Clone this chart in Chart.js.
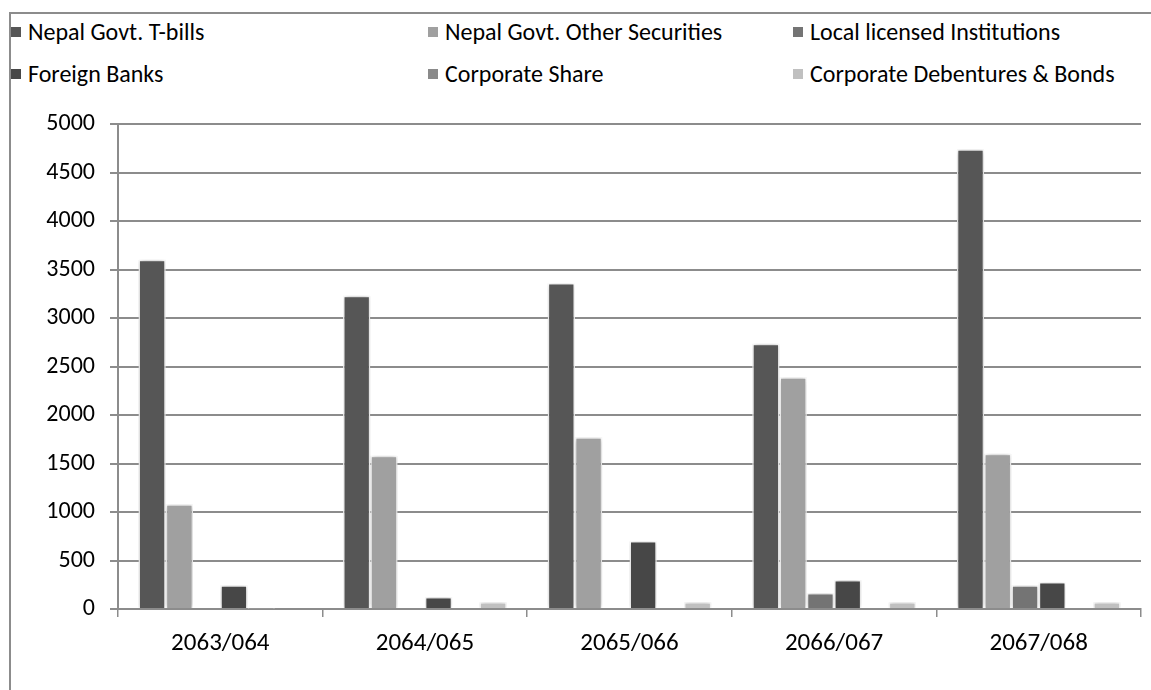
<!DOCTYPE html>
<html>
<head>
<meta charset="utf-8">
<script src="https://cdn.jsdelivr.net/npm/chart.js@4/dist/chart.umd.min.js"></script>
<style>
  html, body { margin: 0; padding: 0; background: #fff; }
  body { width: 1151px; height: 690px; position: relative; overflow: hidden; font-family: Carlito, Lato, sans-serif; }
  .frame { position: absolute; left: 9px; top: 12px; width: 1200px; height: 760px; border-left: 2px solid #8c8c8c; border-top: 2px solid #8c8c8c; }
  .legend { position: absolute; left: 0; top: 0; width: 1151px; height: 110px; }
  .legend-item { position: absolute; font-size: 24px; color: #000; white-space: nowrap; line-height: 24px; }
  .legend-item span { display: inline-block; width: 10px; height: 10px; margin-right: 7px; vertical-align: 3px; }
  #chartWrap { position: absolute; left: 0; top: 0; width: 1151px; height: 690px; }
</style>
</head>
<body>
<div class="frame"></div>
<div class="legend" id="legend"></div>
<div id="chartWrap"><canvas id="investChart" width="1151" height="690"></canvas></div>
<script>
const categories = ["2063/064", "2064/065", "2065/066", "2066/067", "2067/068"];
const seriesNames = [
  "Nepal Govt. T-bills",
  "Nepal Govt. Other Securities",
  "Local licensed Institutions",
  "Foreign Banks",
  "Corporate Share",
  "Corporate Debentures & Bonds"
];
const tBills = [3600, 3230, 3360, 2735, 4740];
const otherSecurities = [1080, 1580, 1770, 2390, 1600];
const localInstitutions = [0, 0, 0, 165, 245];
const foreignBanks = [245, 125, 700, 300, 278];
const corporateShare = [6, 0, 0, 0, 0];
const debentures = [0, 70, 70, 70, 70];
const yTicks = [0, 500, 1000, 1500, 2000, 2500, 3000, 3500, 4000, 4500, 5000];

const seriesColors = ["#565656", "#a0a0a0", "#747474", "#474747", "#8a8a8a", "#c0c0c0"];
const legendPos = [[11, 20], [428, 20], [793, 20], [11, 62], [428, 62], [793, 62]];

document.addEventListener("DOMContentLoaded", () => {
  const values = [tBills, otherSecurities, localInstitutions, foreignBanks, corporateShare, debentures];

  // Legend in two rows of three
  const legendEl = document.getElementById("legend");
  seriesNames.forEach((name, i) => {
    const item = document.createElement("div");
    item.className = "legend-item";
    item.style.left = legendPos[i][0] + "px";
    item.style.top = legendPos[i][1] + "px";
    item.innerHTML = `<span style="background:${seriesColors[i]}"></span>${name}`;
    legendEl.appendChild(item);
  });

  // soft glow around the bars
  const barShadow = {
    id: "barShadow",
    beforeDatasetsDraw(chart) {
      const ctx = chart.ctx;
      ctx.save();
      ctx.shadowColor = "rgba(0,0,0,0.28)";
      ctx.shadowBlur = 5;
      ctx.shadowOffsetX = 0;
      ctx.shadowOffsetY = 0;
    },
    afterDatasetsDraw(chart) {
      chart.ctx.restore();
    }
  };

  const ctx = document.getElementById("investChart").getContext("2d");
  new Chart(ctx, {
    type: "bar",
    data: {
      labels: categories,
      datasets: seriesNames.map((name, i) => ({
        label: name,
        data: values[i],
        backgroundColor: seriesColors[i],
        borderColor: "#ffffff",
        borderWidth: 1.5,
        borderSkipped: "bottom"
      }))
    },
    options: {
      responsive: false,
      animation: false,
      events: [],
      layout: { padding: { left: 0, top: 124, right: 10, bottom: 0 } },
      datasets: { bar: { categoryPercentage: 0.8, barPercentage: 1.0 } },
      plugins: {
        legend: { display: false },
        tooltip: { enabled: false }
      },
      scales: {
        x: {
          grid: { drawOnChartArea: false, drawTicks: true, tickLength: 8, color: "#8c8c8c", lineWidth: 1.5 },
          border: { color: "#8c8c8c", width: 2 },
          ticks: { color: "#000", font: { family: "Carlito, Lato, sans-serif", size: 25 }, padding: 12 },
          afterFit: scale => { scale.height = 81; }
        },
        y: {
          min: 0,
          max: 5000,
          afterBuildTicks: scale => { scale.ticks = yTicks.map(v => ({ value: v })); },
          grid: { color: "#8c8c8c", lineWidth: 2, tickLength: 8 },
          border: { color: "#8c8c8c", width: 2 },
          ticks: { color: "#000", font: { family: "Carlito, Lato, sans-serif", size: 24 }, padding: 15, callback: v => String(v) },
          afterFit: scale => { scale.width = 118; }
        }
      }
    },
    plugins: [barShadow]
  });
});
</script>
</body>
</html>
